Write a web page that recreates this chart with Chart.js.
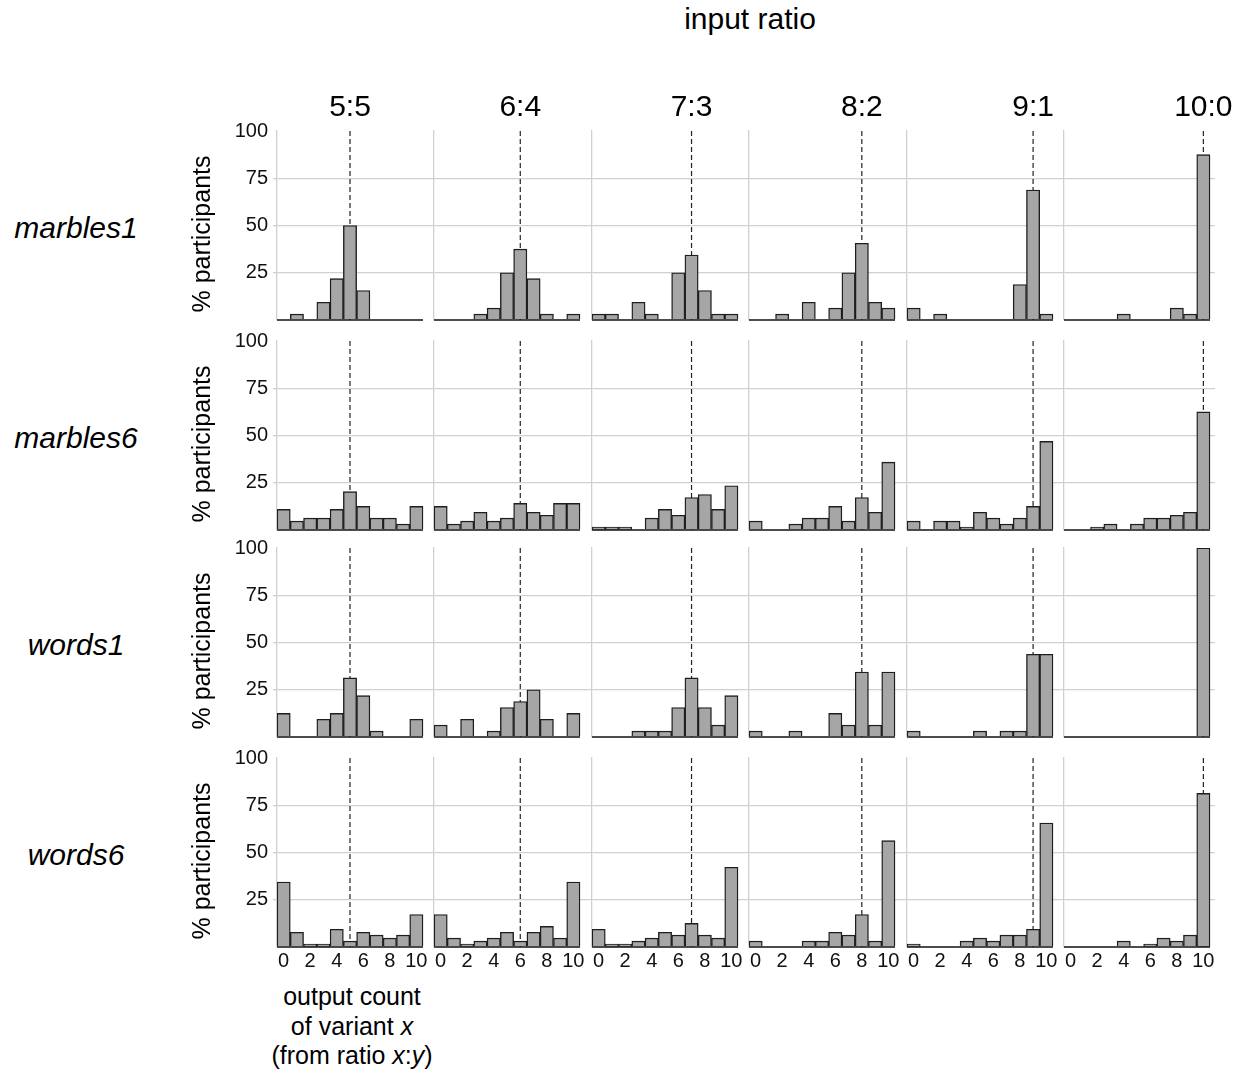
<!DOCTYPE html>
<html>
<head>
<meta charset="utf-8">
<script src="https://cdn.jsdelivr.net/npm/chart.js@4.4.1/dist/chart.umd.min.js"></script>
<style>
  body { margin: 0; background: #fff; font-family: 'Liberation Sans', Arial, sans-serif; }
  #fig { position: relative; width: 1250px; height: 1084px; overflow: hidden; }
  #fig canvas { position: absolute; }
  .lbl { position: absolute; white-space: nowrap; color: #000; }
</style>
</head>
<body>
<div id="fig"></div>
<script>
const bins = [0, 1, 2, 3, 4, 5, 6, 7, 8, 9, 10];
const ratios = ['5:5', '6:4', '7:3', '8:2', '9:1', '10:0'];
const expected = [5, 6, 7, 8, 9, 10];
const conditions = ['marbles1', 'marbles6', 'words1', 'words6'];
const yTicks = [0, 25, 50, 75, 100];
const xTicks = [0, 2, 4, 6, 8, 10];

// % participants per output count, one list per input ratio
const marbles1 = [
    [0, 3.1, 0, 9.4, 21.9, 50, 15.6, 0, 0, 0, 0],
    [0, 0, 0, 3.1, 6.3, 25, 37.5, 21.9, 3.1, 0, 3.1],
    [3.1, 3.1, 0, 9.4, 3.1, 0, 25, 34.4, 15.6, 3.1, 3.1],
    [0, 0, 3.1, 0, 9.4, 0, 6.3, 25, 40.6, 9.4, 6.3],
    [6.3, 0, 3.1, 0, 0, 0, 0, 0, 18.8, 68.8, 3.1],
    [0, 0, 0, 0, 3.1, 0, 0, 0, 6.3, 3.1, 87.5]
];
const marbles6 = [
    [10.9, 4.7, 6.3, 6.3, 10.9, 20.3, 12.5, 6.3, 6.3, 3.1, 12.5],
    [12.5, 3.1, 4.7, 9.4, 4.7, 6.3, 14.1, 9.4, 7.8, 14.1, 14.1],
    [1.6, 1.6, 1.6, 0, 6.3, 10.9, 7.8, 17.2, 18.8, 10.9, 23.4],
    [4.7, 0, 0, 3.1, 6.3, 6.3, 12.5, 4.7, 17.2, 9.4, 35.9],
    [4.7, 0, 4.7, 4.7, 1.6, 9.4, 6.3, 3.1, 6.3, 12.5, 46.9],
    [0, 0, 1.6, 3.1, 0, 3.1, 6.3, 6.3, 7.8, 9.4, 62.5]
];
const words1 = [
    [12.5, 0, 0, 9.4, 12.5, 31.3, 21.9, 3.1, 0, 0, 9.4],
    [6.3, 0, 9.4, 0, 3.1, 15.6, 18.8, 25, 9.4, 0, 12.5],
    [0, 0, 0, 3.1, 3.1, 3.1, 15.6, 31.3, 15.6, 6.3, 21.9],
    [3.1, 0, 0, 3.1, 0, 0, 12.5, 6.3, 34.4, 6.3, 34.4],
    [3.1, 0, 0, 0, 0, 3.1, 0, 3.1, 3.1, 43.8, 43.8],
    [0, 0, 0, 0, 0, 0, 0, 0, 0, 0, 100]
];
const words6 = [
    [34.4, 7.8, 1.6, 1.6, 9.4, 3.1, 7.8, 6.3, 4.7, 6.3, 17.2],
    [17.2, 4.7, 1.6, 3.1, 4.7, 7.8, 3.1, 7.8, 10.9, 4.7, 34.4],
    [9.4, 1.6, 1.6, 3.1, 4.7, 7.8, 6.3, 12.5, 6.3, 4.7, 42.2],
    [3.1, 0, 0, 0, 3.1, 3.1, 7.8, 6.3, 17.2, 3.1, 56.3],
    [1.6, 0, 0, 0, 3.1, 4.7, 3.1, 6.3, 6.3, 9.4, 65.6],
    [0, 0, 0, 0, 3.1, 0, 1.6, 4.7, 3.1, 6.3, 81.3]
];
const rows = [marbles1, marbles6, words1, words6];

// panel geometry (plot areas)
const panelLeft = [277, 434, 592, 749, 907, 1064];
const panelW = 146;
const rowTop = [131, 341, 548, 758];
const rowH = 189;
const L = 100, T = 12;
const binW = panelW / bins.length;
const FONT = "'Liberation Sans', Arial, sans-serif";

const fig = document.getElementById('fig');

function addLabel(html, css) {
    const d = document.createElement('div');
    d.className = 'lbl';
    d.innerHTML = html;
    Object.assign(d.style, css);
    fig.appendChild(d);
    return d;
}

// black baseline under each panel, only across the bins
const baseline = {
    id: 'baseline',
    afterDatasetsDraw(chart) {
        const { ctx, scales: { x, y } } = chart;
        const y0 = y.getPixelForValue(yTicks[0]);
        ctx.save();
        ctx.strokeStyle = '#111';
        ctx.lineWidth = 1.5;
        ctx.beginPath();
        ctx.moveTo(x.getPixelForValue(bins[0] - 0.5), y0);
        ctx.lineTo(x.getPixelForValue(bins[bins.length - 1] + 0.5), y0);
        ctx.stroke();
        ctx.restore();
    }
};

rows.forEach((row, r) => {
    const bottomRow = r === rows.length - 1;
    const B = bottomRow ? 30 : 2;
    row.forEach((vals, c) => {
        const firstCol = c === 0;
        const ext = c < ratios.length - 1 ? panelLeft[c + 1] - panelLeft[c] - panelW : 5;
        const areaW = panelW + ext;
        const cv = document.createElement('canvas');
        cv.width = L + areaW;
        cv.height = T + rowH + B;
        cv.style.left = (panelLeft[c] - L) + 'px';
        cv.style.top = (rowTop[r] - T) + 'px';
        fig.appendChild(cv);

        const xMin = bins[0] - 0.5;
        const xMax = xMin + bins.length * areaW / panelW;

        new Chart(cv, {
            type: 'bar',
            data: {
                datasets: [{
                    type: 'bar',
                    data: bins.map((b, i) => ({ x: b, y: vals[i] })),
                    backgroundColor: '#a6a6a6',
                    borderColor: '#1e1e1e',
                    borderWidth: 1.4,
                    barPercentage: 1,
                    categoryPercentage: 1,
                    order: 0
                }, {
                    type: 'line',
                    data: [{ x: expected[c], y: yTicks[0] }, { x: expected[c], y: yTicks[yTicks.length - 1] }],
                    borderColor: '#222',
                    borderWidth: 1.2,
                    borderDash: [5, 3],
                    pointRadius: 0,
                    order: 1
                }]
            },
            options: {
                responsive: false,
                animation: false,
                events: [],
                layout: { padding: { top: T, left: 0, right: 0, bottom: 0 } },
                plugins: { legend: { display: false }, tooltip: { enabled: false } },
                scales: {
                    x: {
                        type: 'linear',
                        min: xMin,
                        max: xMax,
                        offset: false,
                        grid: { display: false, drawTicks: false, offset: false },
                        border: { display: false },
                        afterBuildTicks: s => { s.ticks = xTicks.map(v => ({ value: v })); },
                        afterFit: s => { s.height = B; s.paddingLeft = 0; s.paddingRight = 0; },
                        ticks: {
                            display: bottomRow,
                            padding: 2,
                            maxRotation: 0,
                            autoSkip: false,
                            color: '#111',
                            font: { family: FONT, size: 20 }
                        }
                    },
                    y: {
                        min: yTicks[0],
                        max: yTicks[yTicks.length - 1],
                        afterBuildTicks: s => { s.ticks = yTicks.map(v => ({ value: v })); },
                        afterFit: s => { s.width = L; s.paddingTop = 0; s.paddingBottom = 0; },
                        grid: {
                            color: ctx => (ctx.tick && ctx.tick.value > yTicks[0] && ctx.tick.value < yTicks[yTicks.length - 1]) ? '#d0d0d0' : 'rgba(0,0,0,0)',
                            lineWidth: 1.3,
                            drawTicks: firstCol,
                            tickLength: 4
                        },
                        border: { color: '#d0d0d0', width: 1.3 },
                        ticks: {
                            display: firstCol,
                            padding: 5,
                            callback: v => v === 0 ? '' : v,
                            color: '#111',
                            font: { family: FONT, size: 20 }
                        }
                    }
                }
            },
            plugins: [baseline]
        });
    });
});

// figure title and column headers
addLabel('input ratio', { left: '750px', top: '4px', fontSize: '30px', lineHeight: '30px', transform: 'translateX(-50%)' });
ratios.forEach((txt, c) => {
    const cx = panelLeft[c] + (bins.indexOf(expected[c]) + 0.5) * binW;
    addLabel(txt, { left: cx + 'px', top: '91px', fontSize: '30px', lineHeight: '30px', transform: 'translateX(-50%)' });
});

// row labels and y titles
conditions.forEach((name, r) => {
    const cy = rowTop[r] + rowH / 2;
    addLabel(name, { left: '76px', top: (cy - 13) + 'px', fontSize: '30px', lineHeight: '30px', fontStyle: 'italic', transform: 'translateX(-50%)' });
    addLabel('% participants', { left: '201px', top: (cy + 8) + 'px', fontSize: '25px', lineHeight: '25px', transform: 'translate(-50%, -50%) rotate(-90deg)' });
});

// x title
addLabel('output count<br>of variant <i>x</i><br>(from ratio <i>x</i>:<i>y</i>)', {
    left: '352px', top: '982px', fontSize: '25px', lineHeight: '29.5px', textAlign: 'center', transform: 'translateX(-50%)'
});
</script>
</body>
</html>
